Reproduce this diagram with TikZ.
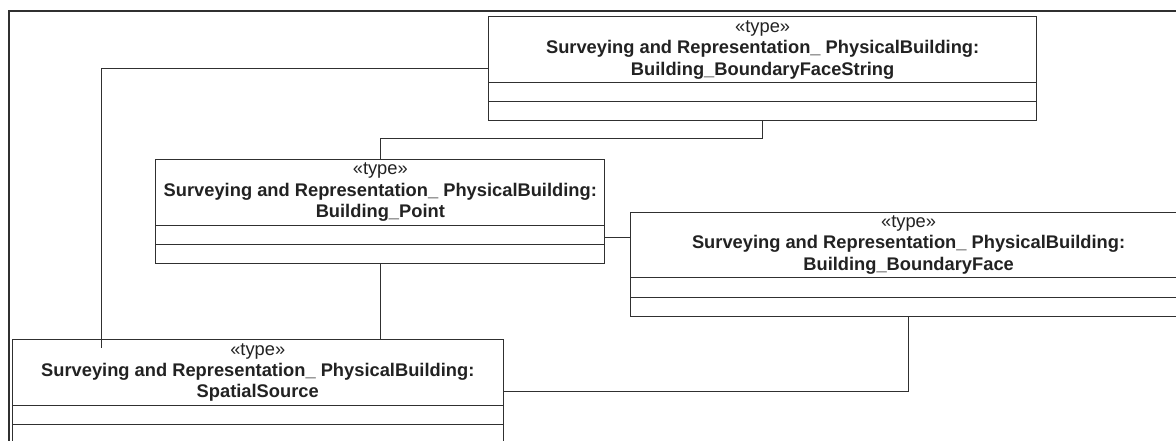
\documentclass[tikz,border=0pt]{standalone}
\usepackage{fontspec}
\setmainfont{Liberation Sans}
\usetikzlibrary{calc}
\definecolor{ink}{HTML}{303030}
\definecolor{txt}{HTML}{222222}
\tikzset{
  classbox/.style={draw=ink, line width=1pt, rectangle, inner sep=0pt, anchor=north west},
  classtitle/.style={align=center, text=txt, inner sep=0pt,
    font=\fontsize{18.3}{21.4}\selectfont},
  wire/.style={draw=ink, line width=1pt},
  framestyle/.style={draw=ink, line width=1.6pt}
}
% one UML class: name, left, top, width, last title line
% (the y axis points down, so offsets below a point are positive)
\newcommand{\umlclass}[5]{%
  \node[classbox, minimum width=#4pt, minimum height=104pt] (#1) at (#2,#3) {};
  \draw[wire] ($(#1.north west)+(0,66.4)$) -- ($(#1.north east)+(0,66.4)$);
  \draw[wire] ($(#1.north west)+(0,85.5)$) -- ($(#1.north east)+(0,85.5)$);
  \node[classtitle] (#1-title) at ($(#1.north)+(0,33.2)$)
    {«type»\\ \textbf{Surveying and Representation\_ PhysicalBuilding:}\\ \textbf{#5}};
}
\begin{document}
\begin{tikzpicture}[x=1pt, y=-1pt]
  \useasboundingbox (0,0) rectangle (1176,441);
  \fill[white] (0,0) rectangle (1176,441);
  \clip (0,0) rectangle (1176,441);

  % outer diagram frame
  \draw[framestyle] (9,470) -- (9,11) -- (1200,11);

  \umlclass{bfs}{488.3}{16.5}{547.7}{Building\_BoundaryFaceString}
  \umlclass{bp}{155.3}{159}{449}{Building\_Point}
  \umlclass{bbf}{630.2}{211.5}{555.8}{Building\_BoundaryFace}
  \umlclass{ss}{12}{339.3}{490.5}{SpatialSource}

  % routing points
  \coordinate (c1) at (101.5,348.3);
  \coordinate (c2) at (0,138.3);
  \coordinate (c4) at (0,237.3);

  % connectors
  \draw[wire] (bfs.west) -| (c1);
  \draw[wire] (bfs.south) -- (bfs.south |- c2) -| (bp.north);
  \draw[wire] (bp.south) -- (bp.south |- ss.north);
  \draw[wire] (bp.east |- c4) -- (bbf.west |- c4);
  \draw[wire] (bbf.south) |- (ss.east);
\end{tikzpicture}
\end{document}
